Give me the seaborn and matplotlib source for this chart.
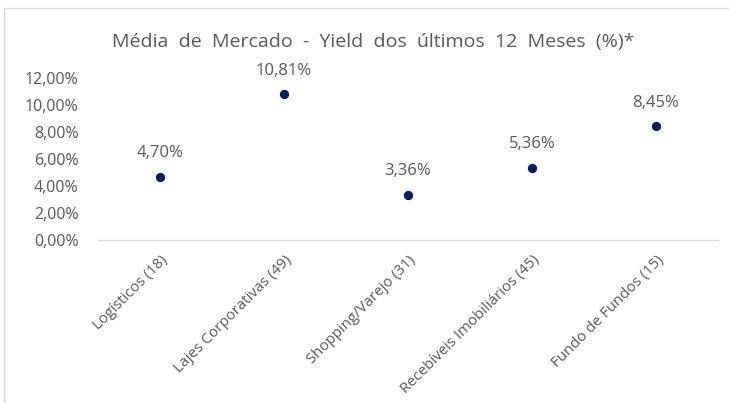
import matplotlib.pyplot as plt
import matplotlib.ticker as ticker
import seaborn as sns
import pandas as pd

categories = ["Logísticos (18)", "Lajes Corporativas (49)", "Shopping/Varejo (31)",
              "Recebíveis Imobiliários (45)", "Fundo de Fundos (15)"]
yields = [4.70, 10.81, 3.36, 5.36, 8.45]
yield_labels = ["4,70%", "10,81%", "3,36%", "5,36%", "8,45%"]

df = pd.DataFrame({"Categoria": categories, "Yield": [v / 100 for v in yields]})

sns.set_style("white")
plt.rcParams['font.family'] = ['Open Sans', 'DejaVu Sans']
gray = "#595959"

fig = plt.figure(figsize=(7.29, 4.03), dpi=100)
ax = fig.add_axes([98 / 729, 1 - 240 / 403, 620 / 729, 162 / 403])

sns.scatterplot(data=df, x="Categoria", y="Yield", ax=ax, color="#002060",
                s=45, edgecolor="#002060", linewidth=0, zorder=3)

ax.set_ylim(0, 0.12)
ax.set_xlim(-0.5, len(categories) - 0.5)
ax.yaxis.set_major_locator(ticker.MultipleLocator(0.02))
ax.yaxis.set_major_formatter(ticker.FuncFormatter(lambda v, p: f"{v * 100:.2f}%".replace(".", ",")))
ax.tick_params(axis="y", length=0, pad=14, labelsize=11.5, labelcolor=gray)
ax.tick_params(axis="x", length=0, pad=9, labelsize=10.8, labelcolor=gray)
plt.setp(ax.get_xticklabels(), rotation=45, ha="right", rotation_mode="anchor")

for side in ["top", "right", "left"]:
    ax.spines[side].set_visible(False)
ax.spines["bottom"].set_color("#d9d9d9")
ax.spines["bottom"].set_linewidth(1)
ax.set_xlabel("")
ax.set_ylabel("")

for i, (v, lab) in enumerate(zip(yields, yield_labels)):
    ax.annotate(lab, (i, v / 100), xytext=(0, 11), textcoords="offset points",
                ha="center", va="bottom", fontsize=12, color=gray)

fig.text(373 / 729, 1 - 42 / 403, "Média  de  Mercado  -  Yield  dos  últimos  12  Meses  (%)*",
         ha="center", va="center", fontsize=14, color=gray)

# light border of the chart area
fig.add_artist(plt.Line2D([4 / 729, 4 / 729], [0, 1 - 8 / 403], color="#d9d9d9", lw=1, transform=fig.transFigure))
fig.add_artist(plt.Line2D([4 / 729, 1], [1 - 8 / 403, 1 - 8 / 403], color="#d9d9d9", lw=1, transform=fig.transFigure))

fig.savefig("out.png", dpi=100)
